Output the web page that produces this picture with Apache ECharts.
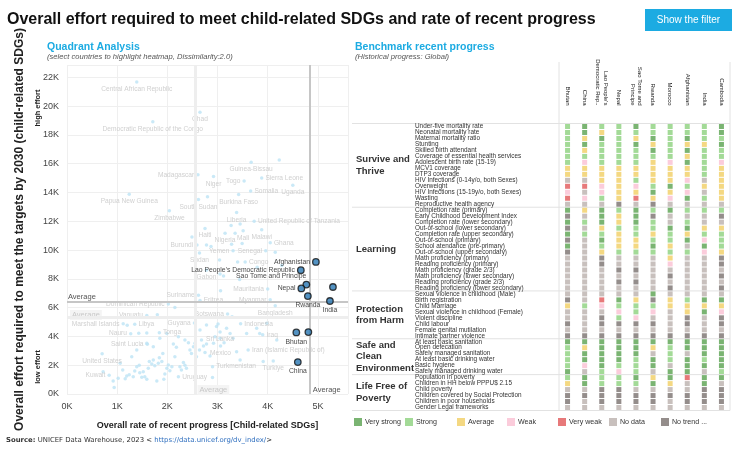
<!DOCTYPE html>
<html><head><meta charset="utf-8">
<script src="https://cdn.jsdelivr.net/npm/echarts@6/dist/echarts.min.js"></script>
<style>html,body{margin:0;padding:0;background:#fff}#c{width:736px;height:454px}</style>
</head><body><div id="c"></div>
<script>
// ---------------- DATA ----------------
// Heatmap columns (selected countries)
const countries = ['Bhutan','China',"Lao People's\nDemocratic Rep..",'Nepal','Sao Tome and\nPrincipe','Rwanda','Morocco','Afghanistan','India','Cambodia'];
// Heatmap groups: [label, number of rows]
const groupLabels = ['Survive and\nThrive','Learning','Protection\nfrom Harm','Safe and\nClean\nEnvironment','Life Free of\nPoverty'];
const groupSizes = [14,14,8,6,6];
// Heatmap rows
const metrics = [
'Under-five mortality rate','Neonatal mortality rate','Maternal mortality ratio','Stunting','Skilled birth attendant','Coverage of essential health services','Adolescent birth rate (15-19)','MCV1 coverage','DTP3 coverage','HIV Infections (0-14y/o, both Sexes)','Overweight','HIV Infections (15-19y/o, both Sexes)','Wasting','Reproductive health agency',
'Completion rate (primary)','Early Childhood Development Index','Completion rate (lower secondary)','Out-of-school (lower secondary)','Completion rate (upper secondary)','Out-of-school (primary)','School atendance (pre-primary)','Out-of-school (upper secondary)','Math proficiency (primary)','Reading proficiency (primary)','Math proficiency (grade 2/3)','Math proficiency (lower secondary)','Reading proficiency (grade 2/3)','Reading proficiency (lower secondary)',
'Sexual violence in childhood (Male)','Birth registration','Child Marriage','Sexual violence in childhood (Female)','Violent discipline','Child labour','Female genital mutilation','Intimate partner violence',
'At least basic sanitation','Open defecation','Safely managed sanitation','At least basic drinking water','Basic hygiene','Safely managed drinking water',
'Population in poverty','Children in HH below PPPU$ 2.15','Child poverty','Children covered by Social Protection','Children in poor households','Gender Legal frameworks'];
// Status per row, one letter per country (V very strong, S strong, A average, W weak, X very weak, N no data, T no trend)
const statusRows = [
'SVSSVSSSSV','SVASSSSSSV','SAVSAVSVSS','SVSSVASAAV','SASSSVSVSS','SSSSSSSASS','SWSSSAWVSW','AAAAAAAASA','AAAAAAAASA','NNAASAAWNA','XXWAWSVSAA','WNWAAVAWNA','XWSAXAWVSA','NNNTNTNNNN',
'VAVSVSVSSS','TNVAVTNNNT','VSVAVSNSNN','TNASSSVVAA','VSSASASASS','TNVAASSVWS','VNSAAVANVS','TNASSSSSWA','NNTNNNANNT','NNTNNNWNNT','NNNTTNNNNN','NNNNNNTNNT','NNNTTNNNNN','NNNNNNTNNT',
'NNNNNVNNNN','TNXVATASVV','ASWSSSAAAA','NNNWSWNAVW','NNTSWNNTNT','TNTTTTNTNT','NNNNNNNNNN','TTTTTTTTTT',
'VVVVVVVVVV','SAVVVASVVV','SVVVVNSNVV','SVVVSVSVSV','SWVSSVNVVV','VNSWSNVVNS',
'SVSSVAVXVV','AVSSSVANVN','NNTTNNNNTT','TTTTTTTTTT','TNTTTTNTTT','NNNNNNNNNN'];
const statusCodes = ['V','S','A','W','X','N','T'];
const statusNames = ['Very strong','Strong','Average','Weak','Very weak','No data','No trend ...'];

// Scatter: other countries (thousands)
const otherNames = ['Central African Republic','Chad','Democratic Republic of the Congo','Guinea-Bissau','Madagascar','Niger','Togo','Sierra Leone','Uganda','Somalia','Papua New Guinea','South Sudan','Burkina Faso','Zimbabwe','Liberia','United Republic of Tanzania','Haiti','Mali','Nigeria','Malawi','Ghana','Burundi','Senegal','Yemen','Sudan','Congo','Gabon','Mauritania','Myanmar','Suriname','Eritrea','Dominican Republic','Bangladesh','Vanuatu','Botswana','Marshall Islands','Libya','Guyana','Indonesia','Nauru','Tonga','Iraq','Sri Lanka','Saint Lucia','Mexico','Iran (Islamic Republic of)','United States','Turkmenistan','Turkiye','Kuwait','Uruguay'];
const otherX = [1.39,2.65,1.71,3.67,2.61,2.92,3.53,3.88,4.50,3.66,1.24,2.62,3.42,2.04,3.38,3.73,2.75,3.51,3.15,3.88,4.05,2.59,3.96,3.31,2.64,3.55,2.78,4.00,4.05,2.62,2.65,2.02,4.15,1.59,3.20,1.12,1.35,2.54,3.46,1.27,1.84,3.90,3.05,1.60,3.06,3.61,0.70,2.90,4.11,0.84,2.22];
const otherY = [21.67,19.56,18.90,16.10,15.23,15.10,14.80,15.00,14.50,14.10,13.87,13.50,13.85,12.73,12.60,12.00,11.50,11.34,11.16,11.40,10.50,10.35,9.95,9.95,9.80,9.17,8.60,7.30,6.54,6.85,6.50,6.25,6.13,5.46,5.55,4.88,4.84,4.93,4.88,4.19,4.26,4.12,4.30,3.45,3.33,3.06,2.80,1.90,2.29,1.30,1.20];
// Scatter: unlabelled other countries
const extraX = [4.23,2.80,3.27,3.45,3.35,2.49,2.78,2.87,3.28,3.49,4.15,3.04,3.40,3.05,3.12,3.79,4.28,3.44,3.06,2.15,1.80,3.29,1.20,1.43,1.59,2.90,
0.92,0.94,1.02,1.11,1.16,1.19,1.24,1.32,1.35,1.39,1.44,1.45,1.49,1.52,1.55,1.59,1.62,1.64,1.69,1.72,1.75,1.79,1.82,1.84,1.89,1.91,1.93,1.95,1.99,2.02,2.05,2.09,2.12,2.15,2.18,2.25,2.28,2.32,2.35,2.38,2.42,2.45,2.48,2.52,2.55,2.58,2.64,2.68,2.72,2.75,2.78,2.85,2.92,2.95,2.98,3.01,3.05,3.13,3.18,3.25,3.31,3.38,3.45,3.58,3.78,3.84,3.91,3.98,4.18,0.72,1.06,1.29,1.39,1.59,1.72,1.85,1.99,2.22,2.35,2.65,2.78];
const extraY = [16.25,13.70,11.70,11.80,11.16,10.90,10.35,10.25,10.40,10.45,9.84,9.30,9.17,8.33,8.20,8.80,8.93,7.96,7.17,6.00,5.50,5.37,4.77,4.22,4.24,1.15,
0.90,0.46,1.09,1.67,1.06,1.25,1.34,1.20,1.60,1.90,1.99,1.48,1.16,1.55,1.20,1.02,1.78,2.25,2.08,2.36,1.97,0.90,2.13,2.52,2.25,2.82,1.02,1.39,1.78,2.01,1.62,1.90,3.47,2.59,3.24,1.90,1.67,2.18,1.99,1.78,3.56,3.06,2.82,3.29,3.52,2.59,3.06,3.75,3.33,2.89,3.47,2.64,3.52,3.98,4.68,4.86,3.87,3.56,4.56,4.21,3.87,2.94,2.36,4.21,4.56,4.21,2.25,4.91,3.75,1.55,2.13,2.59,3.06,3.52,3.29,3.87,4.21,3.98,3.75,4.44,4.79];
// Scatter: selected countries
const focusNames = ['Afghanistan',"Lao People's Democratic Republic",'Sao Tome and Principe','Nepal','Rwanda','India','Cambodia','Bhutan','Morocco','China'];
const focusX = [4.96,4.66,4.77,4.67,4.80,5.24,5.30,4.57,4.81,4.60];
const focusY = [9.17,8.60,7.60,7.33,6.80,6.46,7.43,4.28,4.30,2.22];
// Reference lines (thousands)
const avgX = 4.84, avgY = 6.41, globalAvgX = 2.56, globalAvgY = 5.35;

// ---------------- STYLE ----------------
const FONT = '"Liberation Sans", Arial, sans-serif';
const SMALLFONT = '"DejaVu Sans", Verdana, sans-serif';
const statusColors = ['#59a14f','#8cd17d','#f1ce63','#fabfd2','#e15759','#bab0ac','#79706e'];
const legendLefts = [354,405,457,507,558,609,661];
const otherLabelSide = {
  'Madagascar':'left','Togo':'left','Burundi':'left','Senegal':'left','Yemen':'left','Mauritania':'left','Myanmar':'left','Suriname':'left','Dominican Republic':'left','Vanuatu':'left','Botswana':'left','Marshall Islands':'left','Guyana':'left','Nauru':'left','Saint Lucia':'left','Kuwait':'left',
  'Sierra Leone':'right','Somalia':'right','United Republic of Tanzania':'right','Congo':'right','Eritrea':'right','Libya':'right','Indonesia':'right','Tonga':'right','Iraq':'right','Iran (Islamic Republic of)':'right','Turkmenistan':'right','Uruguay':'right','Ghana':'right'
};
const focusLabel = {
  'Afghanistan':{position:'left'},"Lao People's Democratic Republic":{position:'left'},
  'Sao Tome and Principe':{position:'top',align:'right',distance:1},'Nepal':{position:'left'},
  'Rwanda':{position:'bottom'},'India':{position:'bottom'},'Cambodia':{show:false},
  'Bhutan':{position:'bottom'},'Morocco':{show:false},'China':{position:'bottom'}
};

const chart = echarts.init(document.getElementById('c'));

const statusSeries = statusCodes.map((code,k)=>({
  name: statusNames[k], type:'scatter', xAxisIndex:1, yAxisIndex:1,
  symbol:'rect', symbolSize:[5,5], itemStyle:{color:statusColors[k]}, silent:true, data:[]
}));
statusRows.forEach((row,r)=>{
  for (let c=0;c<countries.length;c++){
    const k = statusCodes.indexOf(row[c]);
    statusSeries[k].data.push([c,r]);
  }
});

const legends = statusNames.map((n,k)=>({
  data:[n], left:legendLefts[k], top:418, padding:0, itemWidth:8, itemHeight:8, itemGap:0,
  icon:'rect', selectedMode:false,
  textStyle:{fontSize:7.1, color:'#333', fontFamily:FONT, padding:[0,0,0,-2]}
}));

const option = {
  animation:false,
  backgroundColor:'#fff',
  textStyle:{fontFamily:FONT},
  grid:[
    {left:67, top:65, width:281, height:329},
    {left:559, top:123.5, width:171, height:287}
  ],
  xAxis:[
    {type:'value', gridIndex:0, min:0, max:5.6, interval:1,
     axisLine:{show:false}, axisTick:{show:false},
     splitLine:{lineStyle:{color:'#efefef'}},
     axisLabel:{formatter:v=>v+'K', fontSize:9, color:'#444', margin:8, showMaxLabel:false},
     name:'Overall rate of recent progress [Child-related SDGs]', nameLocation:'middle', nameGap:27,
     nameTextStyle:{fontWeight:'bold', fontSize:9, color:'#222'}},
    {type:'category', gridIndex:1, data:countries, position:'top',
     axisLine:{show:false}, axisTick:{show:false}, splitLine:{show:false},
     axisLabel:{rotate:90, interval:0, fontSize:6, color:'#222', margin:18, lineHeight:7.2}}
  ],
  yAxis:[
    {type:'value', gridIndex:0, min:0, max:22.85, interval:2,
     axisLine:{show:false}, axisTick:{show:false},
     splitLine:{lineStyle:{color:'#efefef'}},
     axisLabel:{formatter:v=>v+'K', fontSize:9, color:'#444', margin:8, showMaxLabel:false},
     name:'Overall effort required to meet the targets by 2030 (child-related SDGs)', nameLocation:'middle', nameGap:41,
     nameTextStyle:{fontWeight:'bold', fontSize:12, color:'#222'}},
    {type:'category', gridIndex:1, data:metrics, inverse:true,
     axisLine:{show:false}, axisTick:{show:false}, splitLine:{show:false},
     axisLabel:{interval:0, align:'left', margin:144, fontSize:6.4, color:'#333'}}
  ],
  legend:legends,
  series:[
    {name:'lines', type:'scatter', xAxisIndex:0, yAxisIndex:0, data:[], silent:true,
     markLine:{silent:true, symbol:'none', label:{show:false}, animation:false,
       data:[
         {xAxis:globalAvgX, lineStyle:{color:'#eeeeee', width:3, type:'solid'}},
         {yAxis:globalAvgY, lineStyle:{color:'#eeeeee', width:3, type:'solid'}},
         {xAxis:avgX, lineStyle:{color:'#c6c6c6', width:2, type:'solid'}},
         {yAxis:avgY, lineStyle:{color:'#c6c6c6', width:2, type:'solid'}}
       ]}},
    {name:'others', type:'scatter', xAxisIndex:0, yAxisIndex:0, symbolSize:3.5, silent:true, z:3,
     itemStyle:{color:'#bde4f5'},
     label:{show:true, formatter:'{b}', fontSize:6.6, color:'#c4c4c4', distance:2},
     data:otherNames.map((n,i)=>({name:n, value:[otherX[i],otherY[i]], label:{position:otherLabelSide[n]||'bottom'}}))},
    {name:'extra', type:'scatter', xAxisIndex:0, yAxisIndex:0, symbolSize:3.5, silent:true, z:3,
     itemStyle:{color:'#bde4f5'},
     data:extraX.map((x,i)=>[x,extraY[i]])},
    {name:'focus', type:'scatter', xAxisIndex:0, yAxisIndex:0, symbolSize:6.5, silent:true, z:5,
     itemStyle:{color:'#2877b3', borderColor:'#111', borderWidth:1.3},
     label:{show:true, formatter:'{b}', fontSize:6.8, color:'#111', distance:2},
     data:focusNames.map((n,i)=>({name:n, value:[focusX[i],focusY[i]], label:focusLabel[n]}))},
    ...statusSeries
  ]
};
chart.setOption(option);

// ---------------- ANNOTATIONS ----------------
const px = v => chart.convertToPixel({xAxisIndex:0}, v);
const py = v => chart.convertToPixel({yAxisIndex:0}, v);
const rowY = r => chart.convertToPixel({yAxisIndex:1}, r);
const rowH = rowY(1) - rowY(0);
const g = [];
const txt = (x,y,text,o) => g.push(Object.assign({type:'text', x, y, silent:true,
  style:Object.assign({text, fontFamily:FONT, fontSize:8, fill:'#333', align:'left', verticalAlign:'middle'}, o && o.style)}, o && o.el));

// header
txt(7, 20, 'Overall effort required to meet child-related SDGs and rate of recent progress', {style:{fontSize:16, fontWeight:'bold', fill:'#111'}});
g.push({type:'rect', shape:{x:645, y:9, width:87, height:22}, style:{fill:'#1cabe2'}, silent:true});
txt(688.5, 20, 'Show the filter', {style:{fontSize:10, fill:'#fff', align:'center'}});
txt(47, 47, 'Quadrant Analysis', {style:{fontSize:10.5, fontWeight:'bold', fill:'#1cabe2'}});
txt(47, 57, '(select countries to highlight heatmap, Dissimilarity:2.0)', {style:{fontSize:7.6, fontStyle:'italic', fill:'#555'}});
txt(355, 47, 'Benchmark recent progress', {style:{fontSize:10.5, fontWeight:'bold', fill:'#1cabe2'}});
txt(355, 57, '(Historical progress: Global)', {style:{fontSize:7.6, fontStyle:'italic', fill:'#555'}});

// effort labels
txt(38, 108, 'high effort', {style:{fontSize:7.5, fontWeight:'bold', fill:'#222', align:'center'}, el:{rotation:Math.PI/2}});
txt(38, 367, 'low effort', {style:{fontSize:7.5, fontWeight:'bold', fill:'#222', align:'center'}, el:{rotation:Math.PI/2}});

// average labels
const gb = py(0);
txt(px(0)+1, py(avgY)-5, 'Average', {style:{fontSize:7.5, fill:'#555'}});
txt(px(avgX)+3, gb-4, 'Average', {style:{fontSize:7.5, fill:'#555'}});
txt(px(0)+3, py(globalAvgY)-2, 'Average', {style:{fontSize:7.5, fill:'#c8c8c8', backgroundColor:'#f4f4f4', padding:[1,2]}});
txt(px(globalAvgX)+2, gb-4, 'Average', {style:{fontSize:7.5, fill:'#c8c8c8', backgroundColor:'#f4f4f4', padding:[1,2]}});

// heatmap frame
const top0 = rowY(0) - rowH/2;
const bottom0 = rowY(metrics.length-1) + rowH/2;
const line = (x1,y1,x2,y2,c) => g.push({type:'line', silent:true, shape:{x1,y1,x2,y2}, style:{stroke:c||'#e2e2e2', lineWidth:1}});
line(559, 62, 559, bottom0);
line(730, 62, 730, bottom0);
line(352, top0, 730, top0);
let start = 0;
groupLabels.forEach((lab,i)=>{
  const end = start + groupSizes[i];
  const yb = rowY(end-1) + rowH/2;
  line(352, yb, 730, yb);
  const yc = (rowY(start) + rowY(end-1))/2;
  txt(356, yc, lab, {style:{fontSize:9.5, fontWeight:'bold', fill:'#333', lineHeight:11.5}});
  start = end;
});

// source
txt(6, 440, '{b|Source:} UNICEF Data Warehouse, 2023 < {l|https://data.unicef.org/dv_index/}>', {style:{
  fontFamily:SMALLFONT, fontSize:6.9, fill:'#333',
  rich:{b:{fontWeight:'bold', fontFamily:SMALLFONT, fontSize:6.9, fill:'#333'}, l:{fill:'#2f6fbf', fontFamily:SMALLFONT, fontSize:6.9}}}});

chart.setOption({graphic:g});
</script>
</body></html>
